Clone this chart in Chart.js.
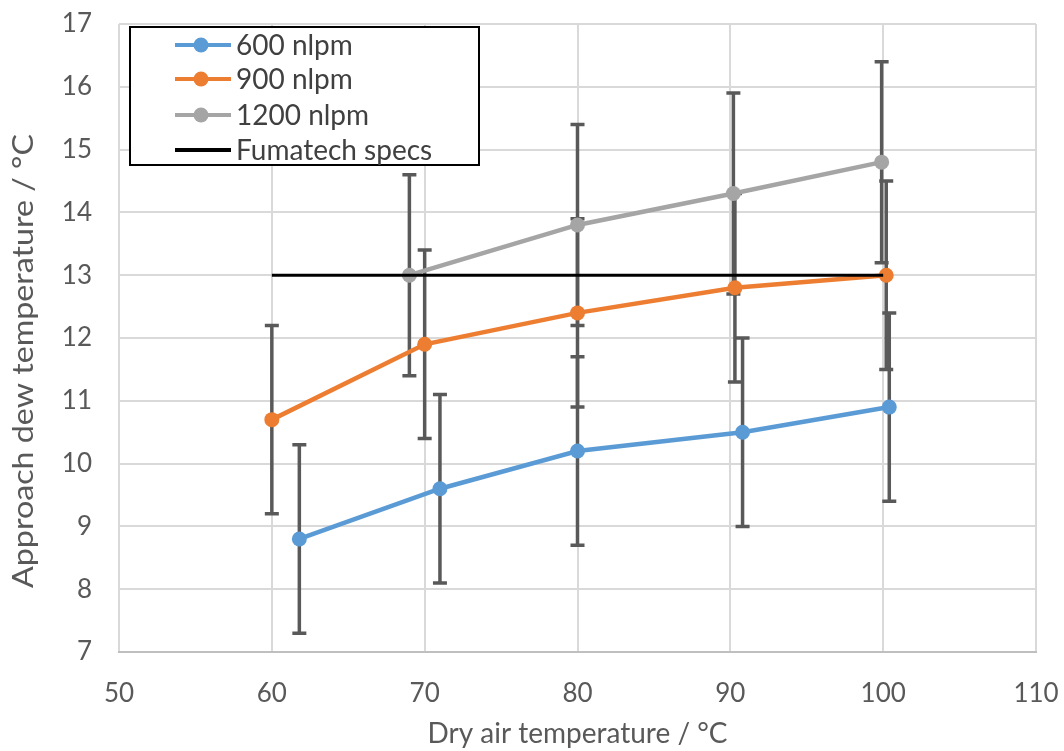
<!DOCTYPE html>
<html>
<head>
<meta charset="utf-8">
<script src="https://cdn.jsdelivr.net/npm/chart.js@4.4.1/dist/chart.umd.min.js"></script>
<style>
  html, body { margin: 0; padding: 0; background: #fff; }
  #wrap { width: 1064px; height: 751px; position: relative; }
</style>
</head>
<body>
<div id="wrap"><canvas id="dewChart"></canvas></div>
<script>
// data
const x600 = [61.8, 71, 80, 90.8, 100.4];
const y600 = [8.8, 9.6, 10.2, 10.5, 10.9];
const err600 = [1.5, 1.5, 1.5, 1.5, 1.5];

const x900 = [60, 70, 80, 90.3, 100.2];
const y900 = [10.7, 11.9, 12.4, 12.8, 13.0];
const err900 = [1.5, 1.5, 1.5, 1.5, 1.5];

const x1200 = [69, 80, 90.2, 99.9];
const y1200 = [13.0, 13.8, 14.3, 14.8];
const err1200 = [1.6, 1.6, 1.6, 1.6];

const xSpec = [60, 100];
const ySpec = [13, 13];

const seriesNames = ['600 nlpm', '900 nlpm', '1200 nlpm', 'Fumatech specs'];
const colors = ['#5B9BD5', '#ED7D31', '#A5A5A5', '#000000'];
const xTitle = 'Dry air temperature / °C';
const yTitle = 'Approach dew temperature / °C';

const FONT = 'Lato, "Noto Sans", sans-serif';
const TXT = '#595959';

const toPoints = (xs, ys) => xs.map((x, i) => ({ x: x, y: ys[i] }));

// error bars, drawn through the chart scales
const errorBars = {
  id: 'errorBars',
  beforeDatasetsDraw(chart) {
    const ctx = chart.ctx;
    const xs = chart.scales.x, ys = chart.scales.y;
    ctx.save();
    ctx.strokeStyle = '#595959';
    ctx.lineWidth = 3.5;
    chart.data.datasets.forEach(ds => {
      if (!ds.errors) return;
      ds.data.forEach((p, i) => {
        const px = xs.getPixelForValue(p.x);
        const top = ys.getPixelForValue(p.y + ds.errors[i]);
        const bot = ys.getPixelForValue(p.y - ds.errors[i]);
        ctx.beginPath();
        ctx.moveTo(px, top); ctx.lineTo(px, bot);
        ctx.moveTo(px - 7, top); ctx.lineTo(px + 7, top);
        ctx.moveTo(px - 7, bot); ctx.lineTo(px + 7, bot);
        ctx.stroke();
      });
    });
    ctx.restore();
  }
};

// boxed legend inside the plot area + the y title (sits a bit low in the original)
const boxLegend = {
  id: 'boxLegend',
  afterDraw(chart) {
    const ctx = chart.ctx;
    const a = chart.chartArea;
    const bx = a.left + 11, by = a.top + 3, bw = 349, bh = 138;
    ctx.save();
    ctx.fillStyle = '#fff';
    ctx.fillRect(bx, by, bw, bh);
    ctx.strokeStyle = '#000';
    ctx.lineWidth = 2;
    ctx.strokeRect(bx, by, bw, bh);
    ctx.font = '28px ' + FONT;
    ctx.textBaseline = 'middle';
    const rows = [18, 52, 88, 123];
    chart.data.datasets.forEach((ds, i) => {
      const ly = by + rows[i];
      ctx.strokeStyle = ds.borderColor;
      ctx.lineWidth = 4;
      ctx.beginPath();
      ctx.moveTo(bx + 45, ly); ctx.lineTo(bx + 101, ly);
      ctx.stroke();
      if (ds.pointRadius > 0) {
        ctx.fillStyle = ds.borderColor;
        ctx.beginPath();
        ctx.arc(bx + 71, ly, 7.5, 0, Math.PI * 2);
        ctx.fill();
      }
      ctx.fillStyle = '#404040';
      ctx.fillText(ds.label, bx + 106, ly + 1);
    });

    ctx.translate(24, (a.top + a.bottom) / 2 + 23);
    ctx.rotate(-Math.PI / 2);
    ctx.scale(1.15, 1);
    ctx.textAlign = 'center';
    ctx.fillStyle = TXT;
    ctx.font = '28px ' + FONT;
    ctx.fillText(yTitle, 0, 0);
    ctx.restore();
  }
};

const lineSet = (i, pts, errs) => ({
  label: seriesNames[i],
  data: pts,
  errors: errs,
  borderColor: colors[i],
  backgroundColor: colors[i],
  borderWidth: 4.5,
  pointRadius: 7.5,
  pointHoverRadius: 7.5,
  pointBorderWidth: 0,
  showLine: true,
  order: 4 - i
});

new Chart(document.getElementById('dewChart'), {
  type: 'scatter',
  data: {
    datasets: [
      lineSet(0, toPoints(x600, y600), err600),
      lineSet(1, toPoints(x900, y900), err900),
      lineSet(2, toPoints(x1200, y1200), err1200),
      {
        label: seriesNames[3],
        data: toPoints(xSpec, ySpec),
        borderColor: colors[3],
        backgroundColor: colors[3],
        borderWidth: 3,
        pointRadius: 0,
        showLine: true,
        order: 0
      }
    ]
  },
  options: {
    responsive: true,
    maintainAspectRatio: false,
    animation: false,
    events: [],
    layout: { padding: { top: 24, right: 28, left: 0, bottom: 0 } },
    plugins: { legend: { display: false }, tooltip: { enabled: false } },
    scales: {
      x: {
        min: 50, max: 110,
        ticks: { stepSize: 10, color: TXT, font: { family: FONT, size: 26 }, padding: 26, maxRotation: 0 },
        grid: { color: '#d9d9d9', lineWidth: 2, drawTicks: false },
        border: { color: '#bfbfbf', width: 2 },
        title: { display: true, text: xTitle, color: TXT, font: { family: FONT, size: 28 }, padding: { top: 15, bottom: 0 } },
        afterFit(s) { s.height = 99; s.paddingLeft = 0; s.paddingRight = 0; }
      },
      y: {
        min: 7, max: 17,
        ticks: { stepSize: 1, color: TXT, font: { family: FONT, size: 26 }, padding: 27 },
        grid: { color: '#d9d9d9', lineWidth: 2, drawTicks: false },
        border: { display: false },
        afterFit(s) { s.width = 119; s.paddingTop = 0; s.paddingBottom = 0; }
      }
    }
  },
  plugins: [errorBars, boxLegend]
});
</script>
</body>
</html>
